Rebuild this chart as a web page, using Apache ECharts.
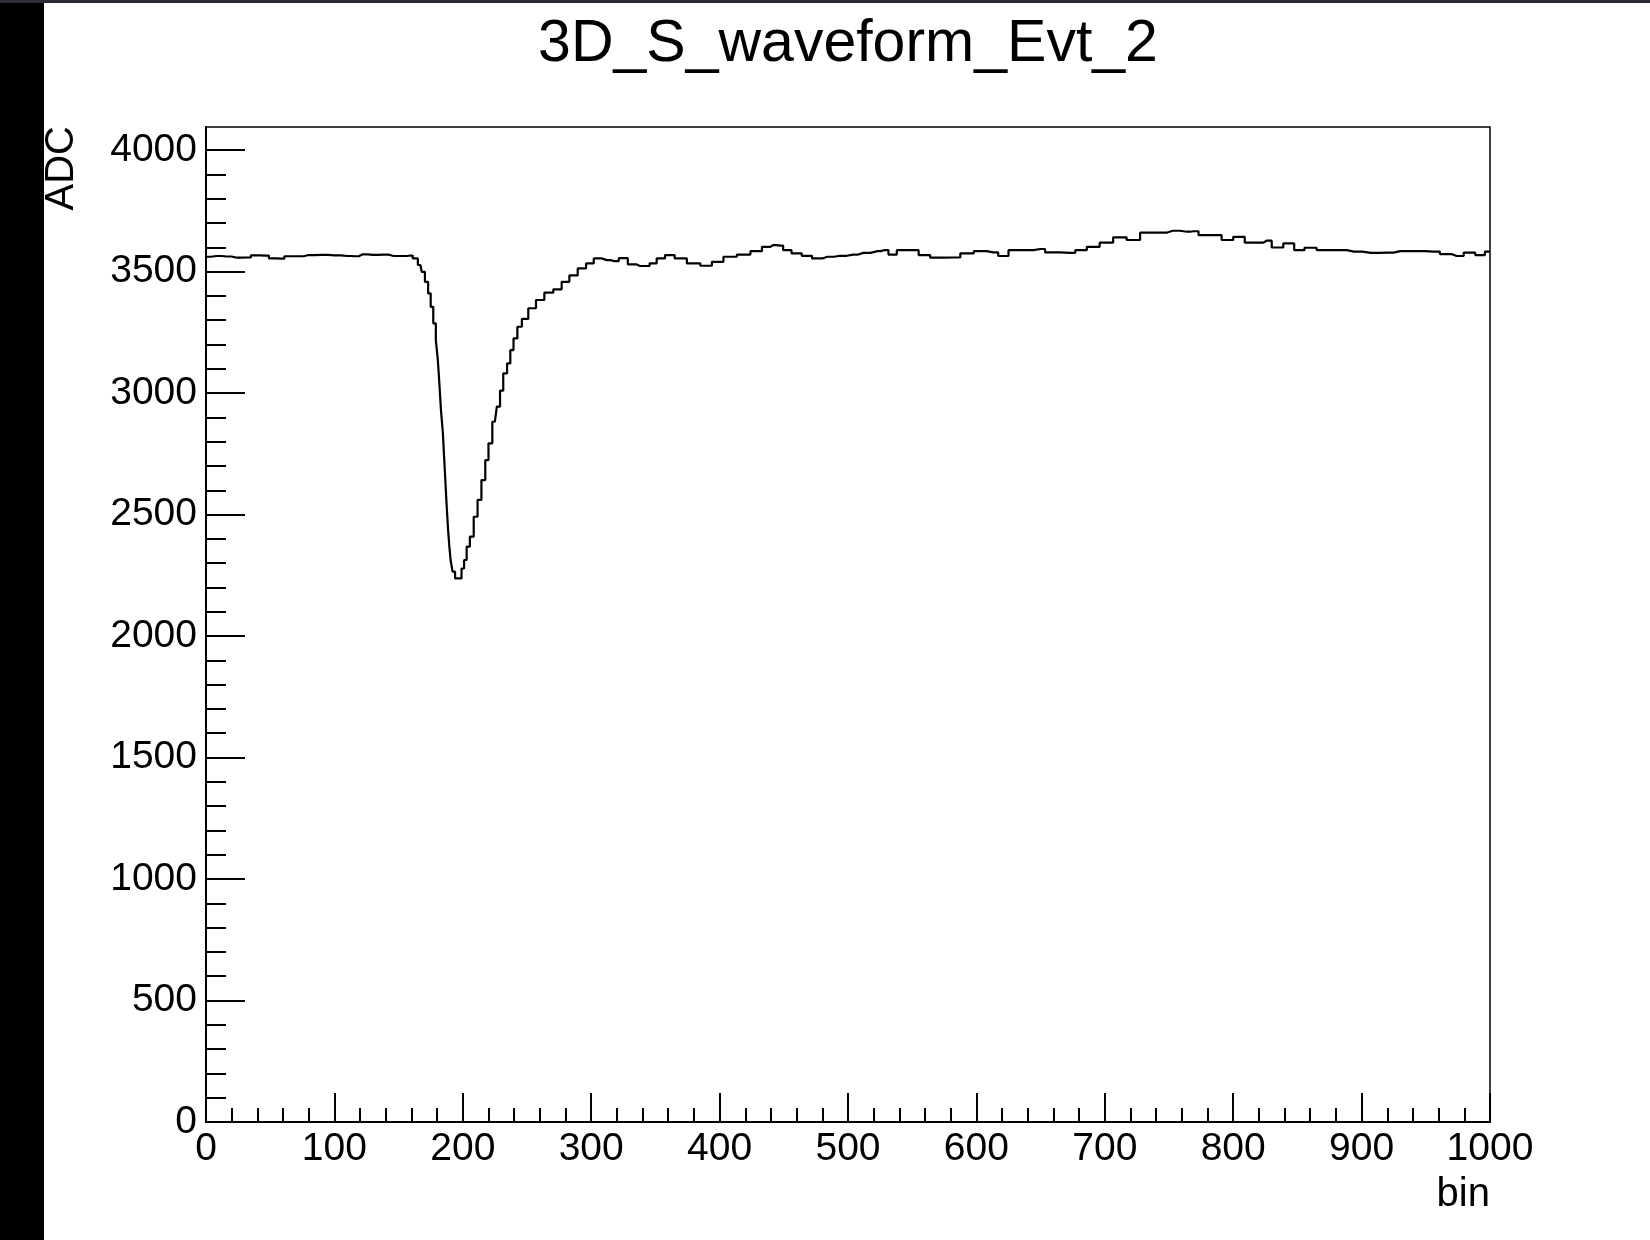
<!DOCTYPE html>
<html>
<head>
<meta charset="utf-8">
<script src="https://cdn.jsdelivr.net/npm/echarts@6/dist/echarts.min.js"></script>
<style>
  html, body { margin: 0; padding: 0; background: #ffffff; }
  #chart { width: 1650px; height: 1240px; }
</style>
</head>
<body>
<div id="chart"></div>
<script>
const chartTitle = '3D_S_waveform_Evt_2';
const xTitle = 'bin';
const yTitle = 'ADC';

const bins = [
  0, 8, 16, 24, 32, 38, 46, 52, 58, 64, 72, 80, 90, 100, 110, 116, 122, 130, 138, 146,
  154, 159, 163, 167, 169, 172, 174, 176, 178, 180, 181, 182, 184, 185, 186, 187, 188, 189, 190, 191, 193,
  195, 197, 198, 200, 202, 204, 207, 210, 213, 216, 219, 221, 225, 228, 230, 233, 236, 238, 241, 244,
  248, 254, 260, 267, 274, 280, 286, 293, 299, 305, 312, 318, 325, 332, 338, 343, 348, 354, 361, 369,
  380, 390, 398, 408, 419, 429, 437, 442, 447, 452, 460, 468, 476, 484, 494, 504, 512, 523, 528, 535,
  541, 551, 559, 569, 582, 593, 603, 613, 621, 629, 639, 650, 657, 673, 681, 691, 701, 712, 722, 733,
  743, 753, 764, 769, 777, 787, 795, 805, 813, 821, 826, 834, 844, 851, 860, 870, 883, 894, 907, 920,
  930, 943, 956, 966, 974, 985, 992, 1000
];
// ADC values at those bins
const adc = [
  3561, 3564, 3562, 3557, 3558, 3567, 3566, 3554, 3553, 3563, 3563, 3568, 3569, 3567, 3564, 3563, 3571, 3569, 3570, 3564,
  3564, 3566, 3554, 3527, 3499, 3458, 3410, 3355, 3287, 3218, 3140, 3060, 2930, 2834, 2730, 2630, 2530, 2440, 2370, 2313, 2265,
  2237, 2230, 2237, 2278, 2313, 2368, 2409, 2491, 2560, 2642, 2724, 2793, 2882, 2944, 3010, 3081, 3122, 3177, 3225, 3273,
  3305, 3349, 3383, 3413, 3427, 3458, 3484, 3513, 3534, 3554, 3547, 3543, 3555, 3530, 3523, 3523, 3534, 3554, 3568, 3554,
  3534, 3524, 3540, 3561, 3570, 3584, 3602, 3609, 3607, 3588, 3575, 3565, 3554, 3561, 3565, 3570, 3577, 3584, 3588, 3570,
  3588, 3588, 3568, 3557, 3558, 3575, 3584, 3579, 3564, 3588, 3588, 3593, 3579, 3577, 3588, 3602, 3619, 3641, 3630, 3660,
  3660, 3668, 3664, 3666, 3650, 3650, 3630, 3643, 3619, 3619, 3627, 3599, 3616, 3588, 3598, 3588, 3588, 3582, 3577, 3578,
  3584, 3584, 3582, 3572, 3564, 3578, 3568, 3582
];

const xMin = 0, xMax = 1000, xStep = 100;
const yMin = 0, yMax = 4095;
const yMajorTicks = [0, 500, 1000, 1500, 2000, 2500, 3000, 3500, 4000];
const yMinorTicks = [
  100, 200, 300, 400, 600, 700, 800, 900, 1100, 1200, 1300, 1400, 1600, 1700, 1800, 1900,
  2100, 2200, 2300, 2400, 2600, 2700, 2800, 2900, 3100, 3200, 3300, 3400, 3600, 3700, 3800, 3900
];

const FONT = "'Liberation Sans', Arial, Helvetica, sans-serif";
const plain = v => String(v);
const seriesData = bins.map((b, i) => [b, adc[i]]);

const chart = echarts.init(document.getElementById('chart'), null, { renderer: 'canvas' });
chart.setOption({
  animation: false,
  backgroundColor: '#ffffff',
  title: {
    text: chartTitle,
    left: 848,
    top: 15,
    textAlign: 'center',
    padding: 0,
    textStyle: { fontFamily: FONT, fontSize: 59, fontWeight: 'normal', color: '#000' }
  },
  grid: {
    left: 206, right: 160, top: 127, bottom: 118,
    show: true, borderColor: '#000', borderWidth: 1.5, backgroundColor: '#fff'
  },
  xAxis: {
    type: 'value', min: xMin, max: xMax, interval: xStep,
    axisLine: { show: true, onZero: false, lineStyle: { color: '#000', width: 2 } },
    axisTick: { show: true, inside: true, length: 29, lineStyle: { color: '#000', width: 2 } },
    minorTick: { show: true, splitNumber: 5, length: 14, lineStyle: { color: '#000', width: 2 } },
    axisLabel: { show: true, margin: 8, fontFamily: FONT, fontSize: 39, color: '#000', formatter: plain, showMinLabel: true, showMaxLabel: true },
    splitLine: { show: false },
    minorSplitLine: { show: false }
  },
  yAxis: [
    {
      type: 'value', min: yMin, max: yMax, interval: 500, position: 'left',
      axisLine: { show: true, onZero: false, lineStyle: { color: '#000', width: 2 } },
      axisTick: { show: true, inside: true, length: 39, customValues: yMajorTicks, lineStyle: { color: '#000', width: 2 } },
      axisLabel: { show: true, margin: 9, fontFamily: FONT, fontSize: 39, color: '#000', formatter: plain, customValues: yMajorTicks },
      splitLine: { show: false }
    },
    {
      type: 'value', min: yMin, max: yMax, interval: 500, position: 'left', offset: 0,
      axisLine: { show: false },
      axisTick: { show: true, inside: true, length: 20, customValues: yMinorTicks, lineStyle: { color: '#000', width: 2 } },
      axisLabel: { show: false },
      splitLine: { show: false }
    }
  ],
  graphic: [
    { type: 'rect', left: 0, top: 0, shape: { width: 44, height: 1240 }, style: { fill: '#000' }, silent: true },
    { type: 'rect', left: 0, top: 0, shape: { width: 1650, height: 3 }, style: { fill: '#2c2c38' }, silent: true },
    {
      type: 'text', x: 1490, y: 1195, silent: true,
      style: { text: xTitle, font: '40px ' + FONT, fill: '#000', textAlign: 'right', textVerticalAlign: 'middle' }
    },
    {
      type: 'text', x: 62, y: 126, rotation: Math.PI / 2, silent: true,
      style: { text: yTitle, font: '40px ' + FONT, fill: '#000', textAlign: 'right', textVerticalAlign: 'middle' }
    }
  ],
  series: [{
    type: 'line',
    xAxisIndex: 0, yAxisIndex: 0,
    data: seriesData,
    step: 'middle',
    showSymbol: false,
    symbol: 'none',
    lineStyle: { color: '#000', width: 2.2 },
    silent: true
  }]
});
</script>
</body>
</html>
